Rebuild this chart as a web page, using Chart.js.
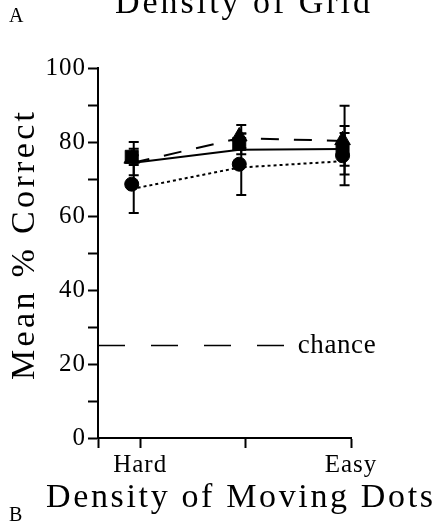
<!DOCTYPE html>
<html>
<head>
<meta charset="utf-8">
<script src="https://cdn.jsdelivr.net/npm/chart.js@4/dist/chart.umd.min.js"></script>
<style>
  body { margin: 0; background: #fff; }
  canvas { display: block; }
</style>
</head>
<body>
<canvas id="myChart" width="443" height="524"></canvas>
<script>
// data
var xTickVals = [-0.4, 0, 1, 2];
var xTickLabels = ['', 'Hard', '', 'Easy'];
var pointX = [-0.08, 0.94, 1.92];

var circleMean = [68.6, 74.0, 76.3];
var circleErr = [7.8, 8.3, 8.0];
var squareMean = [76.0, 79.5, 78.0];
var squareErr = [2.2, 2.8, 4.4];
var triangleMean = [75.5, 81.5, 80.5];
var triangleErr = [4.5, 3.1, 9.3];

// fitted lines
var solidLine = [74.3, 77.9, 78.1];
var dashedLine = [74.3, 81.0, 80.3];
var dottedLine = [67.3, 73.1, 74.8];

var chanceLevel = 25;
var chanceX = [-0.4, 1.39];

var titleText = 'Density of Grid';
var xTitleText = 'Density of Moving Dots';
var yTitleText = 'Mean % Correct';
var chanceText = 'chance';

var serif = '"Liberation Serif", "Times New Roman", serif';

function pts(xs, ys) {
  var out = [];
  for (var i = 0; i < xs.length; i++) out.push({x: xs[i], y: ys[i]});
  return out;
}

function fitText(ctx, str, x, y, w) {
  ctx.letterSpacing = '0px';
  var m = ctx.measureText(str).width;
  var sp = (w - m) / (str.length - 1);
  ctx.letterSpacing = sp + 'px';
  ctx.fillText(str, x, y);
  ctx.letterSpacing = '0px';
}

var errorBars = {
  id: 'errorBars',
  afterDatasetsDraw: function(chart) {
    var ctx = chart.ctx, xs = chart.scales.x, ys = chart.scales.y;
    var sets = [[circleMean, circleErr], [squareMean, squareErr], [triangleMean, triangleErr]];
    ctx.save();
    ctx.strokeStyle = '#000';
    ctx.lineWidth = 2;
    sets.forEach(function(s) {
      for (var i = 0; i < pointX.length; i++) {
        var px = xs.getPixelForValue(pointX[i]) + 2;
        var top = ys.getPixelForValue(s[0][i] + s[1][i]);
        var bot = ys.getPixelForValue(s[0][i] - s[1][i]);
        ctx.beginPath();
        ctx.moveTo(px, top); ctx.lineTo(px, bot);
        ctx.moveTo(px - 5, top); ctx.lineTo(px + 5, top);
        ctx.moveTo(px - 5, bot); ctx.lineTo(px + 5, bot);
        ctx.stroke();
      }
    });
    ctx.restore();
  }
};

var texts = {
  id: 'texts',
  beforeDraw: function(chart) {
    chart.ctx.letterSpacing = '1px';
  },
  afterDraw: function(chart) {
    var ctx = chart.ctx, xs = chart.scales.x, ys = chart.scales.y;
    ctx.save();
    ctx.fillStyle = '#000';
    ctx.textBaseline = 'alphabetic';
    ctx.textAlign = 'left';

    ctx.font = '34px ' + serif;
    fitText(ctx, titleText, 115, 13, 255);
    fitText(ctx, xTitleText, 46, 507, 387);

    ctx.save();
    ctx.translate(34, 380);
    ctx.rotate(-Math.PI / 2);
    fitText(ctx, yTitleText, 0, 0, 268);
    ctx.restore();

    ctx.font = '20px ' + serif;
    ctx.fillText('A', 9, 22);
    ctx.fillText('B', 9, 521);

    ctx.font = '27px ' + serif;
    var cy = ys.getPixelForValue(chanceLevel);
    fitText(ctx, chanceText, xs.getPixelForValue(chanceX[1]) + 11, cy + 7, 78);
    ctx.restore();
  }
};

var ctx = document.getElementById('myChart');
var myChart = new Chart(ctx, {
  type: 'scatter',
  data: {
    datasets: [
      {
        data: pts(chanceX, [chanceLevel, chanceLevel]),
        showLine: true, borderColor: '#000', borderWidth: 1.5,
        borderDash: [27, 26], pointRadius: 0, order: 9
      },
      {
        data: pts(pointX, solidLine),
        showLine: true, borderColor: '#000', borderWidth: 2,
        pointRadius: 0, order: 8
      },
      {
        data: pts(pointX, dashedLine),
        showLine: true, borderColor: '#000', borderWidth: 2,
        borderDash: [18, 15], pointRadius: 0, order: 8
      },
      {
        data: pts(pointX, dottedLine),
        showLine: true, borderColor: '#000', borderWidth: 2,
        borderDash: [3, 3], pointRadius: 0, order: 8
      },
      {
        data: pts(pointX, circleMean),
        pointStyle: 'circle', pointRadius: 7,
        backgroundColor: '#000', borderColor: '#000', order: 2
      },
      {
        data: pts(pointX, triangleMean),
        pointStyle: 'triangle', pointRadius: 9,
        backgroundColor: '#000', borderColor: '#000', order: 4
      },
      {
        data: pts(pointX, squareMean),
        pointStyle: 'rect', pointRadius: 9.2,
        backgroundColor: '#000', borderColor: '#000', order: 3
      }
    ]
  },
  options: {
    responsive: false,
    animation: false,
    layout: { padding: { top: 68, right: 92, left: 0, bottom: 0 } },
    plugins: {
      legend: { display: false },
      tooltip: { enabled: false }
    },
    scales: {
      x: {
        type: 'linear',
        min: -0.4, max: 2,
        afterBuildTicks: function(s) {
          s.ticks = xTickVals.map(function(v) { return {value: v}; });
        },
        afterFit: function(s) { s.height = 86; },
        ticks: {
          color: '#000',
          font: { family: serif, size: 25 },
          padding: 2,
          maxRotation: 0,
          autoSkip: false,
          callback: function(v) {
            var i = xTickVals.indexOf(v);
            return i < 0 ? '' : xTickLabels[i];
          }
        },
        grid: { drawOnChartArea: false, tickLength: 10, tickColor: '#000', tickWidth: 2 },
        border: { color: '#000', width: 2 }
      },
      y: {
        min: 0, max: 100,
        afterFit: function(s) { s.width = 98; },
        ticks: {
          stepSize: 10,
          color: '#000',
          font: { family: serif, size: 25 },
          padding: 2,
          callback: function(v) { return v % 20 === 0 ? v : ''; }
        },
        grid: { drawOnChartArea: false, tickLength: 10, tickColor: '#000', tickWidth: 2 },
        border: { color: '#000', width: 2 }
      }
    }
  },
  plugins: [errorBars, texts]
});
</script>
</body>
</html>
